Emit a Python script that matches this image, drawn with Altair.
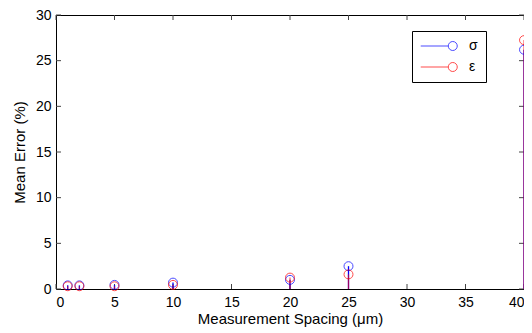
import altair as alt
import pandas as pd

spacing = [1, 2, 5, 10, 20, 25, 40]
sigma = [0.4, 0.4, 0.45, 0.7, 1.0, 2.5, 26.2]
epsilon = [0.3, 0.3, 0.3, 0.45, 1.25, 1.6, 27.25]
series_names = ["σ", "ε"]
series_colors = ["#0000ff", "#ff0000"]
x_ticks = [0, 5, 10, 15, 20, 25, 30, 35, 40]
y_ticks = [0, 5, 10, 15, 20, 25, 30]

rows = []
for name, vals in zip(series_names, [sigma, epsilon]):
    for s, v in zip(spacing, vals):
        rows.append({"spacing": s, "err": v, "series": name})
df = pd.DataFrame(rows)
xt = pd.DataFrame({"t": x_ticks})
yt = pd.DataFrame({"t": y_ticks})

W, H = 468, 274
FONT = "Liberation Sans"

xs = alt.Scale(domain=[0, 40], nice=False, zero=False)
ys = alt.Scale(domain=[0, 30], nice=False)

base = alt.Chart(df)

stem_blue = base.transform_filter(alt.datum.series == series_names[0]).mark_rule(
    strokeWidth=1.3, color=series_colors[0]
).encode(
    x=alt.X("spacing:Q", scale=xs),
    y=alt.Y("err:Q", scale=ys),
    y2=alt.datum(0),
)
stem_red = base.transform_filter(alt.datum.series == series_names[1]).mark_rule(
    strokeWidth=1.3, color=series_colors[1], opacity=0.6
).encode(
    x=alt.X("spacing:Q", scale=xs),
    y=alt.Y("err:Q", scale=ys),
    y2=alt.datum(0),
)

legend_path = "M-4.06,0L2.06,0M4.06,0A1,1,0,1,1,2.06,0A1,1,0,1,1,4.06,0"

points = base.mark_point(shape="circle", filled=False, size=80, strokeWidth=1).encode(
    x=alt.X(
        "spacing:Q",
        scale=xs,
        axis=alt.Axis(
            title="Measurement Spacing (μm)",
            values=x_ticks,
            ticks=False,
            domain=False,
            grid=False,
            labelPadding=6,
            titlePadding=2,
        ),
    ),
    y=alt.Y(
        "err:Q",
        scale=ys,
        axis=alt.Axis(
            title="Mean Error (%)",
            values=y_ticks,
            ticks=False,
            domain=False,
            grid=False,
            labelPadding=5,
            titlePadding=8,
        ),
    ),
    color=alt.Color(
        "series:N",
        scale=alt.Scale(domain=series_names, range=series_colors),
        legend=alt.Legend(
            title=None,
            orient="none",
            legendX=356,
            legendY=16,
            symbolType=legend_path,
            symbolSize=81,
            symbolStrokeWidth=1,
            symbolOffset=12,
            labelOffset=23,
            labelFontSize=14,
            labelFont=FONT,
            labelColor="black",
            strokeColor="black",
            fillColor="white",
            padding=8,
            rowPadding=7,
            cornerRadius=0,
        ),
    ),
)

tick_left = alt.Chart(yt).mark_rule(color="#444444", strokeWidth=1).encode(
    y=alt.Y("t:Q", scale=ys), x=alt.value(0), x2=alt.value(5)
)
tick_right = alt.Chart(yt).mark_rule(color="#444444", strokeWidth=1).encode(
    y=alt.Y("t:Q", scale=ys), x=alt.value(W - 5), x2=alt.value(W)
)
tick_bottom = alt.Chart(xt).mark_rule(color="#444444", strokeWidth=1).encode(
    x=alt.X("t:Q", scale=xs), y=alt.value(H), y2=alt.value(H - 5)
)
tick_top = alt.Chart(xt).mark_rule(color="#444444", strokeWidth=1).encode(
    x=alt.X("t:Q", scale=xs), y=alt.value(0), y2=alt.value(5)
)

chart = (
    alt.layer(tick_left, tick_right, tick_bottom, tick_top, stem_blue, stem_red, points)
    .properties(
        width=W,
        height=H,
        autosize=alt.AutoSizeParams(type="none"),
        padding={"left": 48, "top": 7, "right": 0, "bottom": 44},
    )
    .configure_view(stroke="black", strokeWidth=1)
    .configure_axis(
        labelFont=FONT,
        labelFontSize=14,
        labelColor="black",
        titleFont=FONT,
        titleFontSize=15,
        titleFontWeight="normal",
        titleColor="black",
    )
)

chart.save("out.html", embed_options={"renderer": "svg", "actions": False})
